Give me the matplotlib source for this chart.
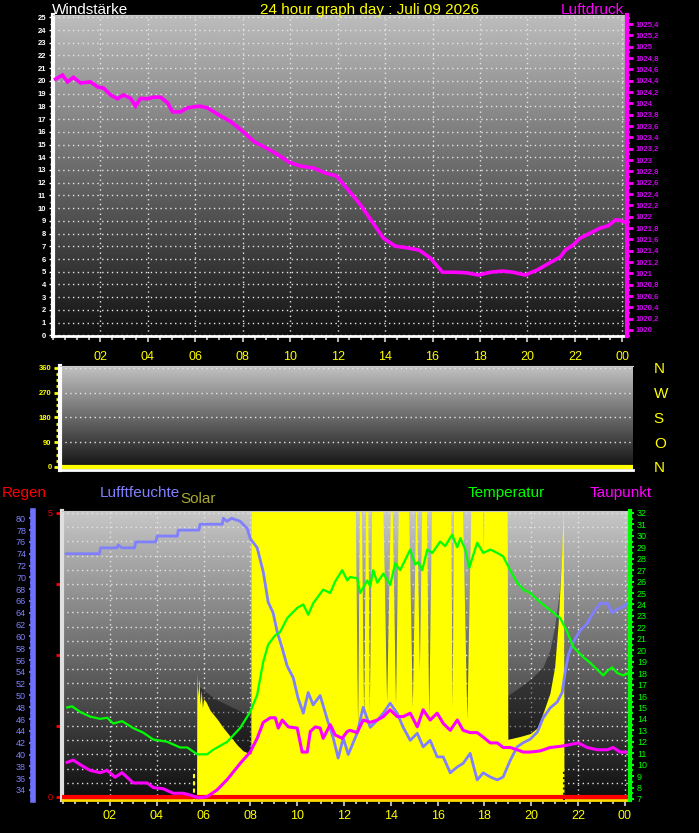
import numpy as np
import matplotlib
matplotlib.use("Agg")
import matplotlib.pyplot as plt
from matplotlib.ticker import MultipleLocator, FixedLocator, FixedFormatter, FuncFormatter

plt.rcParams['font.family'] = ['Liberation Sans', 'DejaVu Sans']

# ---- data ----
hour_ticks = [2, 4, 6, 8, 10, 12, 14, 16, 18, 20, 22, 24]
hour_labels = ['02', '04', '06', '08', '10', '12', '14', '16', '18', '20', '22', '00']

# Luftdruck (hPa)
p_hours = [0.11, 0.40, 0.61, 0.86, 1.16, 1.58, 1.88, 2.13, 2.42, 2.72, 2.97, 3.27, 3.48, 3.69,
           3.98, 4.24, 4.53, 4.83, 5.04, 5.37, 5.67, 5.92, 6.21, 6.51, 7.02, 7.52, 7.99, 8.49,
           9.00, 9.50, 9.96, 10.47, 10.98, 11.48, 11.95, 12.45, 12.96, 13.46, 13.93, 14.43,
           14.94, 15.44, 15.91, 16.42, 16.92, 17.43, 17.93, 18.44, 18.94, 19.40, 19.91, 20.42,
           20.92, 21.39, 21.60, 21.93, 22.22, 22.65, 23.07, 23.41, 23.70, 23.90, 24.12]
pressure = [1024.43, 1024.50, 1024.38, 1024.46, 1024.36, 1024.38, 1024.29, 1024.27, 1024.15,
            1024.08, 1024.15, 1024.09, 1023.95, 1024.09, 1024.08, 1024.11, 1024.11, 1024.01,
            1023.85, 1023.85, 1023.92, 1023.94, 1023.95, 1023.92, 1023.79, 1023.67, 1023.51,
            1023.32, 1023.21, 1023.09, 1022.96, 1022.89, 1022.86, 1022.77, 1022.72, 1022.47,
            1022.21, 1021.91, 1021.62, 1021.48, 1021.45, 1021.41, 1021.27, 1021.02, 1021.02,
            1021.01, 1020.97, 1021.02, 1021.04, 1021.02, 1020.97, 1021.06, 1021.18, 1021.29,
            1021.41, 1021.50, 1021.62, 1021.71, 1021.80, 1021.84, 1021.94, 1021.94, 1021.90]

# Windrichtung (deg)
dir_hours = [0.0, 24.2]
direction = [0, 0]

# Regen (mm)
rain_hours = [-0.05, 24.22]
rain = [0, 0]

# Temperatur (C)
t_hours = [0.17, 0.38, 0.73, 1.15, 1.58, 1.88, 2.14, 2.52, 2.99, 3.42, 3.85, 4.44, 5.00, 5.30,
           5.73, 6.15, 6.41, 7.01, 7.56, 7.99, 8.29, 8.55, 8.76, 9.06, 9.27, 9.57, 10.00, 10.26,
           10.47, 10.68, 11.11, 11.41, 11.62, 11.92, 12.14, 12.26, 12.56, 12.69, 12.99, 13.12,
           13.25, 13.42, 13.68, 13.97, 14.19, 14.40, 14.83, 15.04, 15.17, 15.34, 15.56, 15.77,
           16.11, 16.32, 16.62, 16.84, 16.97, 17.18, 17.35, 17.69, 17.95, 18.25, 18.55, 18.80,
           19.10, 19.40, 19.66, 19.96, 20.38, 20.81, 21.24, 21.54, 21.79, 22.22, 22.52, 22.82,
           23.08, 23.25, 23.46, 23.68, 23.93, 24.15]
temperature = [15.0, 15.1, 14.6, 14.2, 14.0, 14.1, 13.6, 13.8, 13.2, 12.8, 12.2, 12.0, 11.5, 11.5,
               10.9, 10.9, 11.3, 12.0, 13.2, 14.6, 16.1, 19.0, 20.5, 21.3, 21.6, 22.8, 23.7, 24.0,
               23.1, 24.1, 25.3, 25.0, 26.0, 27.0, 26.1, 26.4, 26.3, 25.0, 26.1, 25.6,
               27.0, 25.9, 26.7, 25.7, 27.6, 27.0, 28.8, 27.5, 27.7, 27.0, 28.8, 28.5,
               29.5, 29.1, 30.1, 29.0, 29.8, 28.8, 27.2, 29.4, 28.5, 28.8, 28.5, 28.2,
               27.0, 25.9, 25.3, 25.0, 24.2, 23.5, 22.8, 21.6, 20.3, 19.4, 18.9, 18.3,
               17.8, 18.2, 18.5, 18.0, 17.8, 18.0]

# Taupunkt (C)
d_hours = [0.17, 0.43, 0.73, 1.15, 1.58, 1.88, 2.22, 2.52, 2.99, 3.59, 3.85, 4.27, 4.70, 5.13,
           5.51, 5.77, 6.15, 6.58, 7.01, 7.56, 7.99, 8.29, 8.55, 8.85, 9.06, 9.19, 9.36, 9.62,
           10.00, 10.21, 10.43, 10.56, 10.77, 10.98, 11.11, 11.41, 11.62, 11.92, 12.14, 12.26,
           12.56, 12.82, 13.12, 13.42, 13.68, 13.97, 14.27, 14.53, 14.83, 15.13, 15.38, 15.68,
           15.98, 16.24, 16.54, 16.84, 17.09, 17.39, 17.69, 17.95, 18.25, 18.55, 18.80, 19.10,
           19.40, 19.66, 19.96, 20.38, 20.81, 21.24, 21.54, 22.01, 22.39, 22.82, 23.25, 23.50,
           23.80, 24.15]
dewpoint = [10.2, 10.4, 10.0, 9.5, 9.3, 9.5, 8.9, 9.3, 8.4, 8.4, 8.0, 7.9, 7.5, 7.5,
            7.3, 7.1, 7.2, 7.8, 8.7, 10.1, 11.1, 12.3, 13.7, 14.1, 14.1, 13.2, 13.9, 13.3,
            13.2, 11.1, 11.1, 12.9, 13.3, 13.2, 12.3, 13.5, 12.6, 12.3, 12.9, 13.0,
            12.8, 13.9, 13.7, 13.9, 14.2, 14.8, 14.2, 14.2, 14.5, 13.3, 14.8, 13.9,
            14.5, 13.6, 13.0, 13.9, 13.0, 12.8, 12.8, 12.4, 11.9, 11.9, 11.5, 11.5,
            11.3, 11.1, 11.1, 11.2, 11.5, 11.6, 11.7, 11.9, 11.5, 11.3, 11.3, 11.5,
            11.1, 11.1]

# Luftfeuchte (%)
h_hours = [0.13, 1.55, 1.60, 2.30, 2.35, 2.50, 3.05, 3.10, 3.95, 4.02, 4.88, 4.92, 5.80, 5.85,
           6.80, 6.84, 7.00, 7.20, 7.56, 7.86, 7.99, 8.29, 8.55, 8.76, 8.97, 9.15, 9.36, 9.57,
           9.83, 10.04, 10.26, 10.47, 10.68, 10.98, 11.28, 11.54, 11.75, 11.97, 12.18, 12.56,
           12.82, 13.12, 13.42, 13.68, 13.97, 14.27, 14.53, 14.83, 15.13, 15.38, 15.68, 15.98,
           16.24, 16.54, 16.84, 17.09, 17.39, 17.69, 17.95, 18.25, 18.55, 18.80, 19.10, 19.40,
           19.66, 19.96, 20.26, 20.51, 20.81, 21.11, 21.32, 21.45, 21.58, 21.79, 22.09, 22.39,
           22.65, 22.95, 23.25, 23.46, 23.68, 23.93, 24.10]
humidity = [74, 74, 75, 75, 75.5, 75, 75, 76, 76, 77, 77, 78, 78, 79,
            79, 80, 79.5, 80, 79.5, 78.3, 76.6, 75, 70.9, 65.8, 64, 60.7, 58, 55,
            53, 49.5, 47, 50.5, 48.4, 50, 46, 42.8, 39.4, 42.8, 40, 43.6,
            48, 44.6, 45.8, 47, 48.7, 47, 44.6, 42.4, 43.6, 41.3, 42.4, 39.6,
            39.6, 36.9, 37.9, 38.5, 40.2, 35.7, 36.9, 36.2, 35.7, 36.2, 39, 41.3,
            42, 42.6, 43.8, 46.2, 47.9, 48.9, 50.5, 54, 56.8, 59, 61, 62.2,
            64, 65.6, 65.6, 64, 64.6, 65, 65.6]

# Solar (percent of panel height, 101 = top of panel / off scale)
s_hours = [0.0, 5.70, 5.71, 5.75, 5.80, 5.85, 5.90, 5.95, 6.00, 6.10, 6.28, 6.58, 6.84, 7.14,
           7.44, 7.69, 7.99, 8.02, 8.03,
           12.48, 12.58, 12.66, 12.74, 12.84, 12.92, 13.02, 13.08, 13.18, 13.30, 13.40,
           13.66, 13.82, 13.98, 14.06, 14.20, 14.32, 14.76, 14.92, 15.06, 15.10, 15.22, 15.32,
           15.52, 15.62, 15.74, 16.56, 16.62, 16.68, 17.06, 17.25, 17.42, 17.92, 17.95, 17.98,
           18.97, 19.00, 19.53, 19.96, 20.26, 20.50, 20.80, 21.00, 21.15, 21.30,
           21.37, 21.40, 24.22]
solar = [0, 0, 44, 36, 42, 33, 38, 32, 35, 34, 31, 28, 25, 22,
         19, 17, 16, 16, 101,
         101, 26, 101, 101, 27, 101, 101, 30, 101, 101, 101,
         101, 34, 101, 101, 33, 101, 101, 32, 101, 101, 45, 101,
         101, 29, 101, 101, 32, 101, 101, 28, 101, 101, 85, 101,
         101, 21, 22, 23, 25, 30, 37, 46, 61, 85,
         101, 0, 0]
# dark band just above the low solar parts
sm_hours = [5.70, 5.71, 6.00, 6.50, 7.00, 7.50, 8.02, 8.03,
            18.96, 18.97, 19.50, 20.00, 20.50, 20.80, 21.00, 21.20, 21.35, 21.40]
solar_max = [0, 40, 38, 35, 33, 31, 29, 0,
             0, 36, 39, 42, 46, 52, 60, 72, 90, 0]
sunrise = 5.6
sunset = 21.41

# ---- figure ----
W, H = 699, 833
fig = plt.figure(figsize=(W / 100, H / 100), dpi=100, facecolor='black')


def rect(x0, y0, x1, y1):
    return [x0 / W, 1 - y1 / H, (x1 - x0) / W, (y1 - y0) / H]


def gradient(ax, top, bottom):
    g = np.linspace(top, bottom, 256).reshape(-1, 1)
    ax.imshow(g, cmap='gray', vmin=0, vmax=1, aspect='auto', extent=[0, 1, 0, 1],
              transform=ax.transAxes, zorder=0, interpolation='bilinear')


dots = dict(color='#e6e6e6', linestyle=(0, (1, 2.5)), linewidth=1)


def hide_spines(ax):
    for s in ax.spines.values():
        s.set_visible(False)


# ---- top panel: Windstärke / Luftdruck ----
ax1 = fig.add_axes(rect(53, 15, 627, 336))
gradient(ax1, 0.74, 0.07)
ax1.set_axisbelow(True)
ax1.xaxis.set_major_locator(FixedLocator(hour_ticks))
ax1.xaxis.set_major_formatter(FixedFormatter(hour_labels))
ax1.xaxis.set_minor_locator(MultipleLocator(0.5))
ax1.yaxis.set_major_locator(MultipleLocator(1))
ax1.yaxis.set_minor_locator(MultipleLocator(0.5))
ax1.grid(True, which='major', **dots)
ax1.tick_params(axis='x', which='both', colors='#b0b0b0', length=4, width=1.5, pad=7,
                labelcolor='yellow', labelsize=9)
ax1.tick_params(axis='x', which='minor', length=3)
ax1.tick_params(axis='y', which='both', colors='white', length=3, width=1, pad=2,
                labelsize=5.5)
ax1.tick_params(axis='y', which='minor', length=2)
for lab in ax1.get_yticklabels():
    lab.set_fontweight('bold')
hide_spines(ax1)
ax1.spines['left'].set_visible(True)
ax1.spines['left'].set_color('white')
ax1.spines['left'].set_linewidth(3)
ax1.spines['bottom'].set_visible(True)
ax1.spines['bottom'].set_color('white')
ax1.spines['bottom'].set_linewidth(2)
ax1.spines['top'].set_visible(True)
ax1.spines['top'].set_color('#c8c8c8')
ax1.set_xlim(0.0, 24.2)
ax1.set_ylim(-0.05, 25.18)

ax1p = ax1.twinx()
ax1p.plot(p_hours, pressure, color='#ff00ff', lw=2.6, solid_joinstyle='miter')
ax1p.set_ylim(1019.894, 1025.56)
ax1p.yaxis.set_major_locator(MultipleLocator(0.2))
ax1p.yaxis.set_minor_locator(MultipleLocator(0.1))


def hpa(v, pos):
    if abs(v - round(v)) < 1e-6:
        return str(int(round(v)))
    return f"{v:.1f}".replace('.', ',')


ax1p.yaxis.set_major_formatter(FuncFormatter(hpa))
ax1p.tick_params(axis='y', which='both', colors='#ff00ff', length=4, width=2, pad=2,
                 labelsize=5.5, labelcolor='#d000f0')
ax1p.tick_params(axis='y', which='minor', length=2, width=1.5)
for lab in ax1p.get_yticklabels():
    lab.set_fontweight('bold')
hide_spines(ax1p)
ax1p.spines['right'].set_visible(True)
ax1p.spines['right'].set_color('#ff00ff')
ax1p.spines['right'].set_linewidth(3)

fig.text(52 / W, 1 - 14 / H, 'Windstärke', color='white', fontsize=11, va='baseline')
fig.text(370 / W, 1 - 14 / H, '24 hour graph day : Juli 09 2026', color='yellow',
         fontsize=11, ha='center', va='baseline')
fig.text(624 / W, 1 - 14 / H, 'Luftdruck', color='#ff00ff', fontsize=11, ha='right',
         va='baseline')

# ---- middle panel: Windrichtung ----
ax2 = fig.add_axes(rect(60, 366, 633, 470))
gradient(ax2, 0.76, 0.06)
ax2.set_axisbelow(True)
ax2.plot(dir_hours, direction, color='yellow', lw=3)
ax2.yaxis.set_major_locator(FixedLocator([0, 90, 180, 270, 360]))
ax2.yaxis.set_minor_locator(MultipleLocator(22.5))
ax2.set_xticks([])
ax2.grid(True, axis='y', which='major', **dots)
ax2.tick_params(axis='y', which='both', colors='yellow', length=4, width=2, pad=2,
                labelsize=5.5)
ax2.tick_params(axis='y', which='minor', length=3)
for lab in ax2.get_yticklabels():
    lab.set_fontweight('bold')
hide_spines(ax2)
ax2.spines['left'].set_visible(True)
ax2.spines['left'].set_color('white')
ax2.spines['left'].set_linewidth(3)
ax2.spines['bottom'].set_visible(True)
ax2.spines['bottom'].set_color('white')
ax2.spines['bottom'].set_linewidth(2)
ax2.spines['top'].set_visible(True)
ax2.spines['top'].set_color('#c8c8c8')
ax2.set_xlim(0.0, 24.2)
ax2.set_ylim(-11, 367)

ax2r = ax2.twinx()
ax2r.set_ylim(-11, 367)
ax2r.yaxis.set_major_locator(FixedLocator([0, 90, 180, 270, 360]))
ax2r.yaxis.set_major_formatter(FixedFormatter(['N', 'O', 'S', 'W', 'N']))
ax2r.tick_params(axis='y', length=0, pad=15, labelcolor='yellow', labelsize=11)
hide_spines(ax2r)

# ---- bottom panel: Regen / Luftfeuchte / Solar / Temperatur / Taupunkt ----
ax3 = fig.add_axes(rect(62, 511, 630, 800))
gradient(ax3, 0.78, 0.05)
ax3.set_axisbelow(True)
ax3.fill_between(sm_hours, np.array(solar_max) / 100.0, 0, transform=ax3.get_xaxis_transform(),
                 color='black', alpha=0.4, lw=0, zorder=1)
ax3.fill_between(s_hours, np.array(solar) / 100.0, 0, transform=ax3.get_xaxis_transform(),
                 color='yellow', lw=0, zorder=1.5)
ax3.axvline(sunrise, ymin=0, ymax=0.1, color='yellow', ls=(0, (2, 1.5)), lw=1.5, zorder=3)
ax3.axvline(sunset, ymin=0, ymax=0.1, color='#202020', ls=(0, (1, 1.5)), lw=1.5, zorder=3)
ax3.plot(rain_hours, rain, color='red', lw=3, zorder=4, solid_capstyle='butt')
ax3.xaxis.set_major_locator(FixedLocator(hour_ticks))
ax3.xaxis.set_major_formatter(FixedFormatter(hour_labels))
ax3.xaxis.set_minor_locator(MultipleLocator(0.5))
ax3.yaxis.set_major_locator(FixedLocator([0, 1.25, 2.5, 3.75, 5]))
ax3.yaxis.set_major_formatter(FixedFormatter(['0', '', '', '', '5']))
ax3.yaxis.set_minor_locator(MultipleLocator(0.25))
ax3.grid(True, axis='x', which='major', **dots)
ax3.grid(True, axis='y', which='both', **dots)
ax3.tick_params(axis='x', which='both', colors='#b0b0b0', length=4, width=1.5, pad=3,
                labelcolor='yellow', labelsize=9)
ax3.tick_params(axis='x', which='minor', length=3)
ax3.tick_params(axis='y', which='major', colors='red', length=4, width=2, pad=3,
                labelsize=6.5)
ax3.tick_params(axis='y', which='minor', length=0)
hide_spines(ax3)
ax3.spines['left'].set_visible(True)
ax3.spines['left'].set_color('#e0e0e0')
ax3.spines['left'].set_linewidth(3)
ax3.spines['bottom'].set_visible(True)
ax3.spines['bottom'].set_color('#ffd800')
ax3.spines['bottom'].set_linewidth(2)
ax3.spines['top'].set_visible(True)
ax3.spines['top'].set_color('#c8c8c8')
ax3.set_xlim(-0.05, 24.22)
ax3.set_ylim(-0.053, 5.035)

ax_h = ax3.twinx()
ax_h.plot(h_hours, humidity, color='#8080ff', lw=2)
ax_h.set_ylim(32.3, 81.24)
ax_h.yaxis.tick_left()
ax_h.yaxis.set_major_locator(MultipleLocator(2))
ax_h.yaxis.set_minor_locator(MultipleLocator(1))
ax_h.tick_params(axis='y', which='both', colors='#7070ff', length=3, width=1.5, pad=2,
                 labelsize=6.5, labelcolor='#8080ff')
ax_h.tick_params(axis='y', which='minor', length=2)
hide_spines(ax_h)
ax_h.spines['left'].set_visible(True)
ax_h.spines['left'].set_position(('outward', 29 * 0.72))
ax_h.spines['left'].set_color('#7070ff')
ax_h.spines['left'].set_linewidth(4)

ax_t = ax3.twinx()
ax_t.plot(t_hours, temperature, color='#00ff00', lw=1.6)
ax_t.plot(d_hours, dewpoint, color='#ff00ff', lw=2.2)
ax_t.set_ylim(6.91, 32.17)
ax_t.yaxis.set_major_locator(MultipleLocator(1))
ax_t.yaxis.set_minor_locator(MultipleLocator(0.5))
ax_t.tick_params(axis='y', which='both', colors='#00ff00', length=3, width=1.5, pad=2,
                 labelsize=6.5)
ax_t.tick_params(axis='y', which='minor', length=2)
hide_spines(ax_t)
ax_t.spines['right'].set_visible(True)
ax_t.spines['right'].set_color('#00ff00')
ax_t.spines['right'].set_linewidth(3)

fig.text(2 / W, 1 - 497 / H, 'Regen', color='red', fontsize=11, va='baseline')
fig.text(100 / W, 1 - 497 / H, 'Lufftfeuchte', color='#8080ff', fontsize=11, va='baseline')
fig.text(180 / W, 1 - 503 / H, 'Solar', color='#a8a830', fontsize=11, va='baseline')
fig.text(468 / W, 1 - 497 / H, 'Temperatur', color='#00ff00', fontsize=11, va='baseline')
fig.text(590 / W, 1 - 497 / H, 'Taupunkt', color='#ff00ff', fontsize=11, va='baseline')

fig.savefig('out.png', dpi=100, facecolor='black')
